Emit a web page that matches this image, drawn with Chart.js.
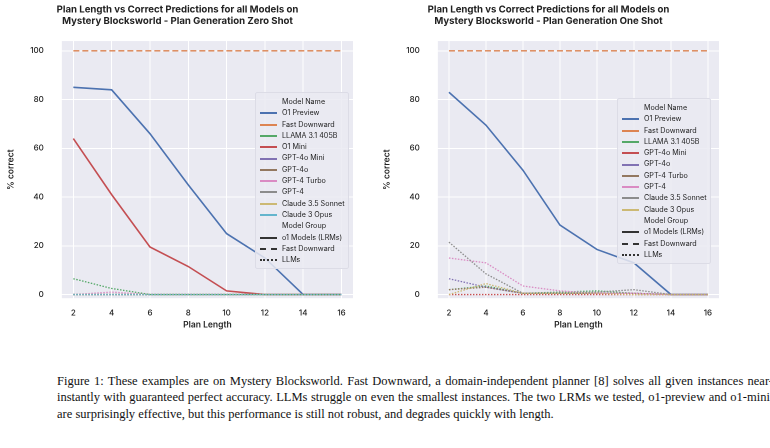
<!DOCTYPE html>
<html><head><meta charset="utf-8">
<script src="https://cdn.jsdelivr.net/npm/chart.js@4"></script>
<style>
body{margin:0;background:#fff;width:770px;height:448px;position:relative;overflow:hidden;font-family:"Inter","Open Sans",sans-serif}
.box{position:absolute;top:0}
.leg{position:absolute;background:rgba(234,234,242,0.85);border:1px solid #dcdce6;border-radius:2px;font-size:7.2px;color:#222;padding:3px 4px;line-height:11.3px}
.leg div{white-space:nowrap}
.leg i{display:inline-block;width:17px;height:0;vertical-align:middle;margin-right:5px}
.leg .h{padding-left:22px}
#cap{position:absolute;left:57px;top:373px;width:716px;font-family:"Liberation Serif","Times New Roman",serif;font-size:12.5px;line-height:16.3px;text-align:justify;color:#111}
</style></head><body>
<div class="box" style="left:0"><canvas id="c1"></canvas></div>
<div class="box" style="left:376px"><canvas id="c2"></canvas></div>
<div class="leg" id="l1" style="left:255px;top:92px"></div>
<div class="leg" id="l2" style="left:617px;top:98px"></div>
<div id="cap">Figure 1: These examples are on Mystery Blocksworld. Fast Downward, a domain-independent planner [8] solves all given instances near-instantly with guaranteed perfect accuracy. LLMs struggle on even the smallest instances. The two LRMs we tested, o1-preview and o1-mini, are surprisingly effective, but this performance is still not robust, and degrades quickly with length.</div>
<script>
const planLength = [2, 4, 6, 8, 10, 12, 14, 16];
const xTicks = [2, 4, 6, 8, 10, 12, 14, 16];
const yTicks = [0, 20, 40, 60, 80, 100];

// zero shot
const zsO1Preview = [85, 84, 66, 45, 25, 15, 0, 0];
const zsFastDownward = [100, 100, 100, 100, 100, 100, 100, 100];
const zsLlama = [6.5, 2.5, 0, 0, 0, 0, 0, 0];
const zsO1Mini = [64, 41, 19.5, 11.5, 1.5, 0, 0, 0];
const zsGpt4oMini = [0, 0, 0, 0, 0, 0, 0, 0];
const zsGpt4o = [0, 0, 0, 0, 0, 0, 0, 0];
const zsGpt4Turbo = [0, 1, 0, 0, 0, 0, 0, 0];
const zsGpt4 = [0, 0, 0, 0, 0, 0, 0, 0];
const zsSonnet = [0, 0, 0, 0, 0, 0, 0, 0];
const zsOpus = [0, 0, 0, 0, 0, 0, 0, 0];

// one shot
const osO1Preview = [83, 69.5, 51, 28.5, 18.5, 13, 0, 0];
const osFastDownward = [100, 100, 100, 100, 100, 100, 100, 100];
const osLlama = [2, 3.5, 0.5, 1, 1.5, 0.5, 0, 0];
const osGpt4oMini = [0, 0, 0, 0, 0, 0, 0, 0];
const osGpt4o = [6.5, 3, 0.5, 0.5, 0.5, 0.5, 0, 0];
const osGpt4Turbo = [2, 3, 0.5, 0.5, 0.5, 0.5, 0, 0];
const osGpt4 = [15, 13, 3.5, 1.5, 0.5, 0.5, 0, 0];
const osSonnet = [21.5, 8.5, 0.5, 0.5, 1, 2, 0, 0];
const osOpus = [0, 4.5, 0.5, 0.5, 0.5, 0, 0, 0];

const C = {blue:'#4c72b0', orange:'#dd8452', green:'#55a868', red:'#c44e52', purple:'#8172b3',
  brown:'#937860', pink:'#da8bc3', gray:'#8c8c8c', olive:'#ccb974', cyan:'#64b5cd'};

function ds(label, data, color, style) {
  return {label, data: planLength.map((x, i) => ({x, y: data[i]})), borderColor: color,
    borderWidth: style === 'solid' ? 1.6 : 1.3,
    borderDash: style === 'dash' ? [6, 3] : style === 'dot' ? [1.5, 1.5] : [],
    pointRadius: 0, tension: 0};
}

const zsSets = [
  ds('Claude 3 Opus', zsOpus, C.cyan, 'dot'), ds('Claude 3.5 Sonnet', zsSonnet, C.olive, 'dot'),
  ds('GPT-4', zsGpt4, C.gray, 'dot'), ds('GPT-4 Turbo', zsGpt4Turbo, C.pink, 'dot'),
  ds('GPT-4o', zsGpt4o, C.brown, 'dot'), ds('GPT-4o Mini', zsGpt4oMini, C.purple, 'dot'),
  ds('LLAMA 3.1 405B', zsLlama, C.green, 'dot'), ds('O1 Mini', zsO1Mini, C.red, 'solid'),
  ds('Fast Downward', zsFastDownward, C.orange, 'dash'), ds('O1 Preview', zsO1Preview, C.blue, 'solid')
];
const osSets = [
  ds('Claude 3 Opus', osOpus, C.olive, 'dot'), ds('Claude 3.5 Sonnet', osSonnet, C.gray, 'dot'),
  ds('GPT-4', osGpt4, C.pink, 'dot'), ds('GPT-4 Turbo', osGpt4Turbo, C.brown, 'dot'),
  ds('GPT-4o', osGpt4o, C.purple, 'dot'), ds('GPT-4o Mini', osGpt4oMini, C.red, 'dot'),
  ds('LLAMA 3.1 405B', osLlama, C.green, 'dot'),
  ds('Fast Downward', osFastDownward, C.orange, 'dash'), ds('O1 Preview', osO1Preview, C.blue, 'solid')
];

const bgPlugin = {id: 'bg', beforeDraw(ch) {
  const a = ch.chartArea, c = ch.ctx; c.save(); c.fillStyle = '#eaeaf2';
  c.fillRect(a.left, a.top, a.right - a.left, a.bottom - a.top); c.restore();
}};

function make(id, w, sets, title) {
  const cv = document.getElementById(id); cv.width = w; cv.height = 330;
  new Chart(cv, {
    type: 'line', data: {datasets: sets}, plugins: [bgPlugin],
    options: {responsive: false, animation: false, devicePixelRatio: 2,
      layout: {padding: {left: 2, right: 22, top: 0, bottom: 0}},
      plugins: {legend: {display: false}, tooltip: {enabled: false},
        title: {display: true, text: title, color: '#222', font: {size: 9.6, weight: 'bold', family: 'Inter'}, padding: {top: 4, bottom: 14}, lineHeight: 1.35}},
      scales: {
        x: {type: 'linear', min: 1.4, max: 16.6, afterBuildTicks: s => { s.ticks = xTicks.map(v => ({value: v})); },
          grid: {color: '#fff', lineWidth: 1}, border: {display: false},
          ticks: {color: '#222', font: {size: 8, weight: '500', family: 'Inter'}, padding: 2},
          title: {display: true, text: 'Plan Length', color: '#222', font: {size: 8.5, weight: '600', family: 'Inter'}, padding: 0}},
        y: {min: -1.5, max: 104, afterBuildTicks: s => { s.ticks = yTicks.map(v => ({value: v})); },
          grid: {color: '#fff', lineWidth: 1}, border: {display: false},
          ticks: {color: '#222', font: {size: 8, weight: '500', family: 'Inter'}, padding: 10},
          title: {display: true, text: '% correct', color: '#222', font: {size: 8.5, weight: '600', family: 'Inter'}, padding: 4}}
      }}
  });
}
make('c1', 375, zsSets, ['Plan Length vs Correct Predictions for all Models on', 'Mystery Blocksworld - Plan Generation Zero Shot']);
make('c2', 365, osSets, ['Plan Length vs Correct Predictions for all Models on', 'Mystery Blocksworld - Plan Generation One Shot']);

function legend(el, items) {
  const groups = [['o1 Models (LRMs)', 'solid'], ['Fast Downward', 'dashed'], ['LLMs', 'dotted']];
  let h = '<div class="h">Model Name</div>';
  items.forEach(([n, c]) => { h += `<div><i style="border-top:2px solid ${c}"></i>${n}</div>`; });
  h += '<div class="h">Model Group</div>';
  groups.forEach(([n, s]) => { h += `<div><i style="border-top:2px ${s} #333"></i>${n}</div>`; });
  document.getElementById(el).innerHTML = h;
}
legend('l1', [['O1 Preview', C.blue], ['Fast Downward', C.orange], ['LLAMA 3.1 405B', C.green], ['O1 Mini', C.red],
  ['GPT-4o Mini', C.purple], ['GPT-4o', C.brown], ['GPT-4 Turbo', C.pink], ['GPT-4', C.gray], ['Claude 3.5 Sonnet', C.olive], ['Claude 3 Opus', C.cyan]]);
legend('l2', [['O1 Preview', C.blue], ['Fast Downward', C.orange], ['LLAMA 3.1 405B', C.green], ['GPT-4o Mini', C.red],
  ['GPT-4o', C.purple], ['GPT-4 Turbo', C.brown], ['GPT-4', C.pink], ['Claude 3.5 Sonnet', C.gray], ['Claude 3 Opus', C.olive]]);
</script>
</body></html>
